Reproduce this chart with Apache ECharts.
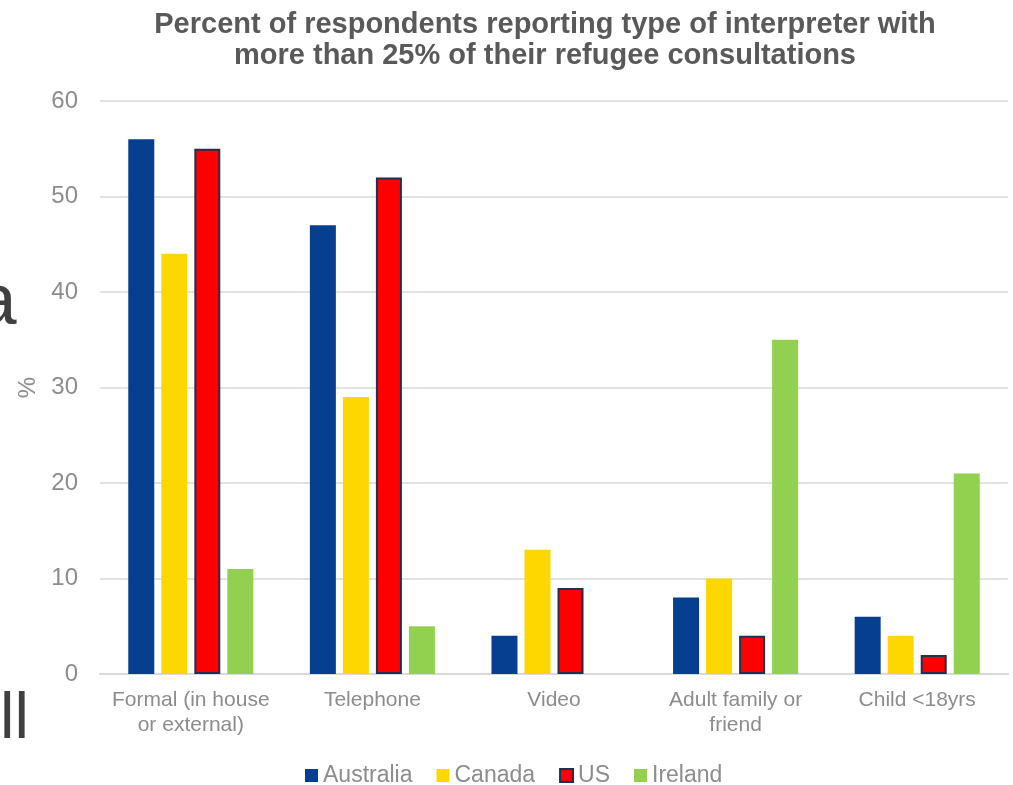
<!DOCTYPE html>
<html><head><meta charset="utf-8">
<script src="https://cdn.jsdelivr.net/npm/echarts@6/dist/echarts.min.js"></script>
<style>html,body{margin:0;padding:0;background:#fff}#c{width:1013px;height:785px}</style>
</head><body><div id="c"></div>
<script>
var categories = ['Formal (in house\nor external)', 'Telephone', 'Video', 'Adult family or\nfriend', 'Child <18yrs'];
var australia = [56, 47, 4, 8, 6];
var canada = [44, 29, 13, 10, 4];
var us = [55, 52, 9, 4, 2];
var ireland = [11, 5, 0, 35, 21];
var yTicks = [0, 10, 20, 30, 40, 50, 60];

var chart = echarts.init(document.getElementById('c'));
var font = 'Liberation Sans, Arial, sans-serif';
function bar(name, data, color, border) {
  return {
    name: name, type: 'bar', data: data, barWidth: 26, barGap: '27%',
    itemStyle: border ? {color: color, borderColor: '#1f3050', borderWidth: 2} : {color: color}
  };
}
chart.setOption({
  animation: false,
  title: {
    text: 'Percent of respondents reporting type of interpreter with\nmore than 25% of their refugee consultations',
    left: 540, top: 4, textAlign: 'center',
    textStyle: {fontFamily: font, fontWeight: 'bold', fontSize: 29, color: '#595959', lineHeight: 31}
  },
  legend: {
    top: 764, left: 305, padding: 0, icon: 'rect', itemWidth: 13, itemHeight: 13, itemGap: 24,
    textStyle: {fontFamily: font, fontSize: 23, color: '#8c8c8c'},
    data: ['Australia', 'Canada', 'US', 'Ireland']
  },
  grid: {left: 100, right: 5, top: 101, bottom: 111, containLabel: false, outerBoundsMode: 'none'},
  xAxis: {
    type: 'category', data: categories,
    axisLine: {lineStyle: {color: '#d9d9d9', width: 2}},
    axisTick: {show: false},
    axisLabel: {interval: 0, fontFamily: font, fontSize: 21, color: '#8c8c8c', margin: 14, lineHeight: 25}
  },
  yAxis: {
    type: 'value', min: 0, max: 60, interval: 10,
    name: '%', nameLocation: 'middle', nameGap: 59, nameRotate: 90,
    nameTextStyle: {fontFamily: font, fontSize: 24, color: '#8c8c8c'},
    axisLine: {show: false}, axisTick: {show: false},
    axisLabel: {fontFamily: font, fontSize: 24, color: '#8c8c8c', margin: 22,
      formatter: function (v) { return yTicks.indexOf(v) >= 0 ? String(v) : ''; }},
    splitLine: {lineStyle: {color: '#d9d9d9', width: 1.5}}
  },
  graphic: [
    {type: 'text', x: -24, y: 267, style: {text: 'a', fontFamily: font, fontSize: 73, fill: '#404040'}},
    {type: 'text', x: 0, y: 688, style: {text: 'll', fontFamily: font, fontSize: 65, fill: '#404040'}}
  ],
  series: [
    bar('Australia', australia, '#063f8f'),
    bar('Canada', canada, '#ffd700'),
    bar('US', us, '#ff0000', true),
    bar('Ireland', ireland, '#92d050')
  ]
});
</script></body></html>
